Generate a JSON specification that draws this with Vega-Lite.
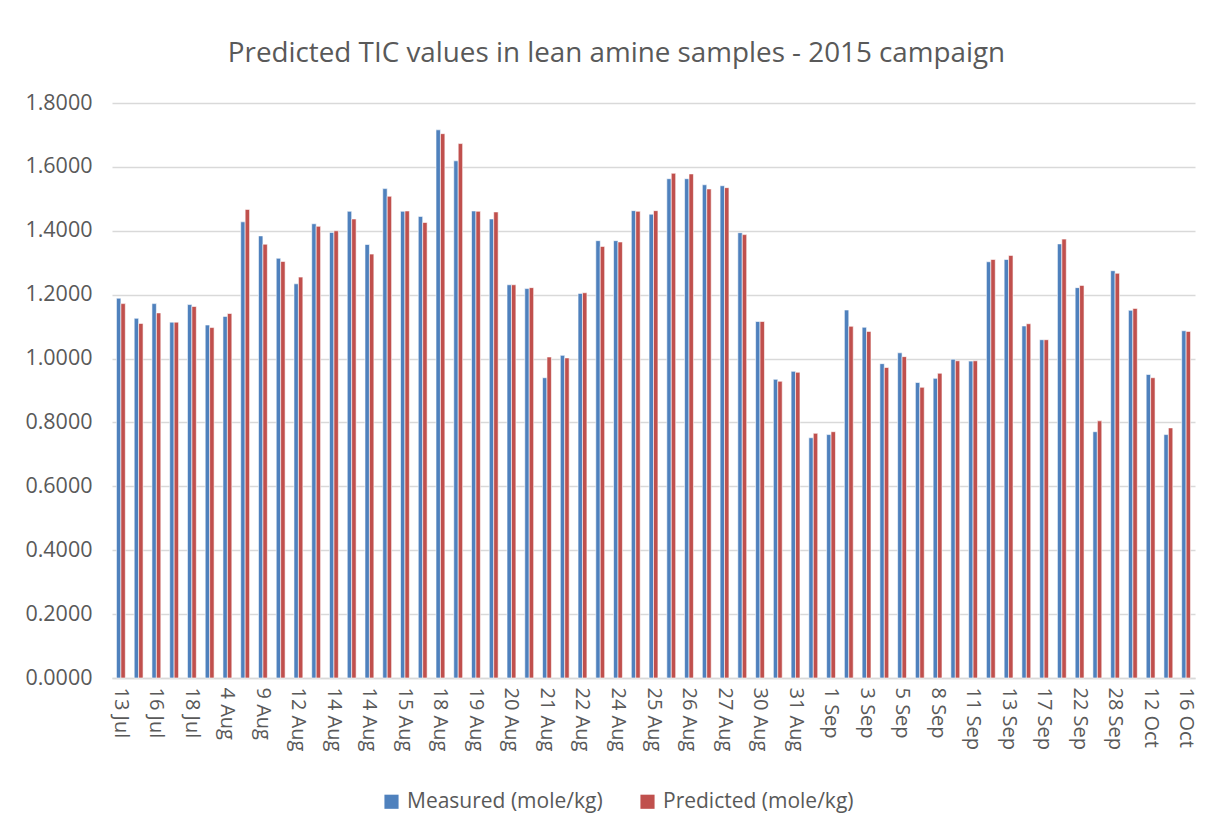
{
  "$schema": "https://vega.github.io/schema/vega-lite/v6.json",
  "autosize": {"type": "none"},
  "padding": {"left": 112, "top": 103, "right": 24, "bottom": 153},
  "width": 1083,
  "height": 575,
  "background": "white",
  "title": {
    "text": "Predicted TIC values in lean amine samples - 2015 campaign",
    "font": "Open Sans",
    "fontSize": 27.8,
    "fontWeight": "normal",
    "color": "#595959",
    "anchor": "middle",
    "dx": -37,
    "offset": 24
  },
  "data": {
    "values": [
      {"sample": "13 Jul", "series": "Measured (mole/kg)", "value": 1.189}, {"sample": "13 Jul", "series": "Predicted (mole/kg)", "value": 1.172},
      {"sample": "14 Jul", "series": "Measured (mole/kg)", "value": 1.126}, {"sample": "14 Jul", "series": "Predicted (mole/kg)", "value": 1.110},
      {"sample": "16 Jul", "series": "Measured (mole/kg)", "value": 1.172}, {"sample": "16 Jul", "series": "Predicted (mole/kg)", "value": 1.143},
      {"sample": "17 Jul", "series": "Measured (mole/kg)", "value": 1.114}, {"sample": "17 Jul", "series": "Predicted (mole/kg)", "value": 1.114},
      {"sample": "18 Jul", "series": "Measured (mole/kg)", "value": 1.169}, {"sample": "18 Jul", "series": "Predicted (mole/kg)", "value": 1.163},
      {"sample": "3 Aug", "series": "Measured (mole/kg)", "value": 1.105}, {"sample": "3 Aug", "series": "Predicted (mole/kg)", "value": 1.097},
      {"sample": "4 Aug", "series": "Measured (mole/kg)", "value": 1.132}, {"sample": "4 Aug", "series": "Predicted (mole/kg)", "value": 1.141},
      {"sample": "5 Aug", "series": "Measured (mole/kg)", "value": 1.428}, {"sample": "5 Aug", "series": "Predicted (mole/kg)", "value": 1.467},
      {"sample": "9 Aug", "series": "Measured (mole/kg)", "value": 1.384}, {"sample": "9 Aug", "series": "Predicted (mole/kg)", "value": 1.358},
      {"sample": "11 Aug", "series": "Measured (mole/kg)", "value": 1.314}, {"sample": "11 Aug", "series": "Predicted (mole/kg)", "value": 1.304},
      {"sample": "12 Aug", "series": "Measured (mole/kg)", "value": 1.234}, {"sample": "12 Aug", "series": "Predicted (mole/kg)", "value": 1.255},
      {"sample": "13 Aug", "series": "Measured (mole/kg)", "value": 1.422}, {"sample": "13 Aug", "series": "Predicted (mole/kg)", "value": 1.414},
      {"sample": "14 Aug", "series": "Measured (mole/kg)", "value": 1.395}, {"sample": "14 Aug", "series": "Predicted (mole/kg)", "value": 1.400},
      {"sample": "14 Aug #2", "series": "Measured (mole/kg)", "value": 1.461}, {"sample": "14 Aug #2", "series": "Predicted (mole/kg)", "value": 1.437},
      {"sample": "14 Aug #3", "series": "Measured (mole/kg)", "value": 1.357}, {"sample": "14 Aug #3", "series": "Predicted (mole/kg)", "value": 1.327},
      {"sample": "15 Aug #2", "series": "Measured (mole/kg)", "value": 1.532}, {"sample": "15 Aug #2", "series": "Predicted (mole/kg)", "value": 1.508},
      {"sample": "15 Aug", "series": "Measured (mole/kg)", "value": 1.461}, {"sample": "15 Aug", "series": "Predicted (mole/kg)", "value": 1.462},
      {"sample": "17 Aug", "series": "Measured (mole/kg)", "value": 1.445}, {"sample": "17 Aug", "series": "Predicted (mole/kg)", "value": 1.426},
      {"sample": "18 Aug", "series": "Measured (mole/kg)", "value": 1.716}, {"sample": "18 Aug", "series": "Predicted (mole/kg)", "value": 1.704},
      {"sample": "18 Aug #2", "series": "Measured (mole/kg)", "value": 1.619}, {"sample": "18 Aug #2", "series": "Predicted (mole/kg)", "value": 1.673},
      {"sample": "19 Aug", "series": "Measured (mole/kg)", "value": 1.462}, {"sample": "19 Aug", "series": "Predicted (mole/kg)", "value": 1.461},
      {"sample": "19 Aug #2", "series": "Measured (mole/kg)", "value": 1.437}, {"sample": "19 Aug #2", "series": "Predicted (mole/kg)", "value": 1.459},
      {"sample": "20 Aug", "series": "Measured (mole/kg)", "value": 1.231}, {"sample": "20 Aug", "series": "Predicted (mole/kg)", "value": 1.231},
      {"sample": "20 Aug #2", "series": "Measured (mole/kg)", "value": 1.219}, {"sample": "20 Aug #2", "series": "Predicted (mole/kg)", "value": 1.222},
      {"sample": "21 Aug", "series": "Measured (mole/kg)", "value": 0.940}, {"sample": "21 Aug", "series": "Predicted (mole/kg)", "value": 1.005},
      {"sample": "21 Aug #2", "series": "Measured (mole/kg)", "value": 1.010}, {"sample": "21 Aug #2", "series": "Predicted (mole/kg)", "value": 1.002},
      {"sample": "22 Aug", "series": "Measured (mole/kg)", "value": 1.204}, {"sample": "22 Aug", "series": "Predicted (mole/kg)", "value": 1.206},
      {"sample": "23 Aug", "series": "Measured (mole/kg)", "value": 1.369}, {"sample": "23 Aug", "series": "Predicted (mole/kg)", "value": 1.351},
      {"sample": "24 Aug", "series": "Measured (mole/kg)", "value": 1.369}, {"sample": "24 Aug", "series": "Predicted (mole/kg)", "value": 1.365},
      {"sample": "24 Aug #2", "series": "Measured (mole/kg)", "value": 1.463}, {"sample": "24 Aug #2", "series": "Predicted (mole/kg)", "value": 1.461},
      {"sample": "25 Aug", "series": "Measured (mole/kg)", "value": 1.452}, {"sample": "25 Aug", "series": "Predicted (mole/kg)", "value": 1.463},
      {"sample": "25 Aug #2", "series": "Measured (mole/kg)", "value": 1.563}, {"sample": "25 Aug #2", "series": "Predicted (mole/kg)", "value": 1.580},
      {"sample": "26 Aug", "series": "Measured (mole/kg)", "value": 1.563}, {"sample": "26 Aug", "series": "Predicted (mole/kg)", "value": 1.578},
      {"sample": "26 Aug #2", "series": "Measured (mole/kg)", "value": 1.544}, {"sample": "26 Aug #2", "series": "Predicted (mole/kg)", "value": 1.531},
      {"sample": "27 Aug", "series": "Measured (mole/kg)", "value": 1.541}, {"sample": "27 Aug", "series": "Predicted (mole/kg)", "value": 1.535},
      {"sample": "28 Aug", "series": "Measured (mole/kg)", "value": 1.394}, {"sample": "28 Aug", "series": "Predicted (mole/kg)", "value": 1.388},
      {"sample": "30 Aug", "series": "Measured (mole/kg)", "value": 1.116}, {"sample": "30 Aug", "series": "Predicted (mole/kg)", "value": 1.116},
      {"sample": "30 Aug #2", "series": "Measured (mole/kg)", "value": 0.935}, {"sample": "30 Aug #2", "series": "Predicted (mole/kg)", "value": 0.929},
      {"sample": "31 Aug", "series": "Measured (mole/kg)", "value": 0.960}, {"sample": "31 Aug", "series": "Predicted (mole/kg)", "value": 0.957},
      {"sample": "31 Aug #2", "series": "Measured (mole/kg)", "value": 0.752}, {"sample": "31 Aug #2", "series": "Predicted (mole/kg)", "value": 0.766},
      {"sample": "1 Sep", "series": "Measured (mole/kg)", "value": 0.762}, {"sample": "1 Sep", "series": "Predicted (mole/kg)", "value": 0.771},
      {"sample": "2 Sep", "series": "Measured (mole/kg)", "value": 1.152}, {"sample": "2 Sep", "series": "Predicted (mole/kg)", "value": 1.101},
      {"sample": "3 Sep", "series": "Measured (mole/kg)", "value": 1.098}, {"sample": "3 Sep", "series": "Predicted (mole/kg)", "value": 1.085},
      {"sample": "4 Sep", "series": "Measured (mole/kg)", "value": 0.984}, {"sample": "4 Sep", "series": "Predicted (mole/kg)", "value": 0.972},
      {"sample": "5 Sep", "series": "Measured (mole/kg)", "value": 1.018}, {"sample": "5 Sep", "series": "Predicted (mole/kg)", "value": 1.006},
      {"sample": "7 Sep", "series": "Measured (mole/kg)", "value": 0.925}, {"sample": "7 Sep", "series": "Predicted (mole/kg)", "value": 0.910},
      {"sample": "8 Sep", "series": "Measured (mole/kg)", "value": 0.938}, {"sample": "8 Sep", "series": "Predicted (mole/kg)", "value": 0.954},
      {"sample": "10 Sep", "series": "Measured (mole/kg)", "value": 0.998}, {"sample": "10 Sep", "series": "Predicted (mole/kg)", "value": 0.993},
      {"sample": "11 Sep", "series": "Measured (mole/kg)", "value": 0.992}, {"sample": "11 Sep", "series": "Predicted (mole/kg)", "value": 0.993},
      {"sample": "12 Sep", "series": "Measured (mole/kg)", "value": 1.303}, {"sample": "12 Sep", "series": "Predicted (mole/kg)", "value": 1.310},
      {"sample": "13 Sep", "series": "Measured (mole/kg)", "value": 1.310}, {"sample": "13 Sep", "series": "Predicted (mole/kg)", "value": 1.323},
      {"sample": "15 Sep", "series": "Measured (mole/kg)", "value": 1.102}, {"sample": "15 Sep", "series": "Predicted (mole/kg)", "value": 1.109},
      {"sample": "17 Sep", "series": "Measured (mole/kg)", "value": 1.059}, {"sample": "17 Sep", "series": "Predicted (mole/kg)", "value": 1.059},
      {"sample": "20 Sep", "series": "Measured (mole/kg)", "value": 1.359}, {"sample": "20 Sep", "series": "Predicted (mole/kg)", "value": 1.374},
      {"sample": "22 Sep", "series": "Measured (mole/kg)", "value": 1.222}, {"sample": "22 Sep", "series": "Predicted (mole/kg)", "value": 1.229},
      {"sample": "24 Sep", "series": "Measured (mole/kg)", "value": 0.771}, {"sample": "24 Sep", "series": "Predicted (mole/kg)", "value": 0.805},
      {"sample": "28 Sep", "series": "Measured (mole/kg)", "value": 1.275}, {"sample": "28 Sep", "series": "Predicted (mole/kg)", "value": 1.267},
      {"sample": "5 Oct", "series": "Measured (mole/kg)", "value": 1.151}, {"sample": "5 Oct", "series": "Predicted (mole/kg)", "value": 1.157},
      {"sample": "12 Oct", "series": "Measured (mole/kg)", "value": 0.950}, {"sample": "12 Oct", "series": "Predicted (mole/kg)", "value": 0.940},
      {"sample": "14 Oct", "series": "Measured (mole/kg)", "value": 0.762}, {"sample": "14 Oct", "series": "Predicted (mole/kg)", "value": 0.783},
      {"sample": "16 Oct", "series": "Measured (mole/kg)", "value": 1.087}, {"sample": "16 Oct", "series": "Predicted (mole/kg)", "value": 1.085}
    ]
  },
  "mark": {"type": "bar", "stroke": "white", "strokeWidth": 0.6},
  "encoding": {
    "x": {
      "field": "sample",
      "type": "ordinal",
      "sort": null,
      "scale": {"paddingInner": 0.5, "paddingOuter": 0.25},
      "axis": {
        "title": null,
        "values": ["13 Jul", "16 Jul", "18 Jul", "4 Aug", "9 Aug", "12 Aug", "14 Aug", "14 Aug #3", "15 Aug", "18 Aug", "19 Aug", "20 Aug", "21 Aug", "22 Aug", "24 Aug", "25 Aug", "26 Aug", "27 Aug", "30 Aug", "31 Aug", "1 Sep", "3 Sep", "5 Sep", "8 Sep", "11 Sep", "13 Sep", "17 Sep", "22 Sep", "28 Sep", "12 Oct", "16 Oct"],
        "labelExpr": "split(datum.label, ' #')[0]",
        "labelAngle": 90,
        "labelAlign": "left",
        "labelBaseline": "middle",
        "labelPadding": 9,
        "labelFontSize": 20,
        "labelOverlap": false,
        "labelBound": false,
        "ticks": false,
        "tickSize": 0,
        "domainColor": "#D9D9D9",
        "domainWidth": 1.3,
        "grid": false
      }
    },
    "xOffset": {
      "field": "series",
      "type": "nominal",
      "scale": {"paddingInner": 0, "paddingOuter": 0}
    },
    "y": {
      "field": "value",
      "type": "quantitative",
      "scale": {"domain": [0, 1.8], "nice": false, "zero": true},
      "axis": {
        "title": null,
        "values": [0, 0.2, 0.4, 0.6, 0.8, 1.0, 1.2, 1.4, 1.6, 1.8],
        "format": ".4f",
        "domain": false,
        "ticks": false,
        "tickSize": 0,
        "labelPadding": 20,
        "labelFontSize": 21.5,
        "gridColor": "#D9D9D9",
        "gridWidth": 1.3
      }
    },
    "color": {
      "field": "series",
      "type": "nominal",
      "scale": {"domain": ["Measured (mole/kg)", "Predicted (mole/kg)"], "range": ["#4F81BD", "#C0504D"]},
      "legend": {
        "title": null,
        "orient": "none",
        "direction": "horizontal",
        "legendX": 269,
        "legendY": 688,
        "symbolType": "square",
        "symbolSize": 200,
        "symbolStrokeWidth": 0,
        "labelFontSize": 21,
        "labelLimit": 0,
        "labelOffset": 5,
        "columnPadding": 34
      }
    }
  },
  "config": {
    "view": {"stroke": null},
    "font": "Open Sans",
    "axis": {
      "labelFont": "Open Sans",
      "labelColor": "#595959"
    },
    "legend": {
      "labelFont": "Open Sans",
      "labelColor": "#595959"
    }
  }
}
